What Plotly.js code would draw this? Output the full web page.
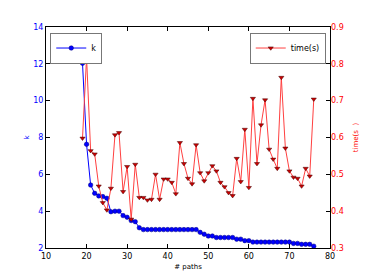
<!DOCTYPE html>
<html>
<head>
<meta charset="utf-8">
<script src="https://cdn.plot.ly/plotly-3.0.1.min.js"></script>
<style>html,body{margin:0;padding:0;background:#fff}#chart{width:367px;height:277px}</style>
</head>
<body>
<div id="chart"></div>
<script>
const paths = [19,20,21,22,23,24,25,26,27,28,29,30,31,32,33,34,35,36,37,38,39,40,41,42,43,44,45,46,47,48,49,50,51,52,53,54,55,56,57,58,59,60,61,62,63,64,65,66,67,68,69,70,71,72,73,74,75,76];
const kValues = [12.03,7.63,5.42,4.97,4.83,4.79,4.70,3.97,4.0,4.0,3.76,3.67,3.49,3.43,3.1,3.0,3.0,3.0,3.0,3.0,3.0,3.0,3.0,3.0,3.0,3.0,3.0,3.0,3.0,2.85,2.75,2.65,2.65,2.57,2.57,2.57,2.57,2.57,2.48,2.48,2.4,2.4,2.32,2.32,2.32,2.32,2.32,2.32,2.32,2.32,2.32,2.32,2.25,2.25,2.2,2.2,2.2,2.1];
const timeValues = [0.598,0.817,0.564,0.555,0.468,0.423,0.403,0.462,0.607,0.613,0.453,0.521,0.378,0.527,0.437,0.437,0.430,0.432,0.500,0.432,0.487,0.487,0.478,0.447,0.586,0.529,0.489,0.474,0.580,0.504,0.482,0.504,0.523,0.509,0.478,0.466,0.450,0.442,0.543,0.480,0.622,0.464,0.706,0.529,0.634,0.702,0.568,0.541,0.516,0.763,0.571,0.509,0.492,0.489,0.468,0.516,0.495,0.704];
const xTicks = [10,20,30,40,50,60,70,80];
const kTicks = [2,4,6,8,10,12,14];
const timeTicks = [0.3,0.4,0.5,0.6,0.7,0.8,0.9];

const font = "DejaVu Sans, sans-serif";
const traces = [
  {x: paths, y: kValues, name: 'k', type: 'scatter', mode: 'lines+markers',
   line: {color: 'blue', width: 1},
   marker: {symbol: 'circle', size: 4.5, color: 'blue', line: {color: '#000080', width: 0.5}},
   legend: 'legend', yaxis: 'y'},
  {x: paths, y: timeValues, name: 'time(s)', type: 'scatter', mode: 'lines+markers',
   line: {color: '#ff4040', width: 1},
   marker: {symbol: 'triangle-down', size: 4.5, color: '#cc0000', line: {color: '#400000', width: 0.5}},
   legend: 'legend2', yaxis: 'y2'}
];
const layout = {
  width: 367, height: 277,
  margin: {l: 46, r: 37, t: 27, b: 29},
  paper_bgcolor: '#fff', plot_bgcolor: '#fff',
  font: {family: font, size: 8, color: 'black'},
  showlegend: true,
  xaxis: {range: [10, 80], tickvals: xTicks, ticktext: xTicks.map(String),
          showgrid: false, zeroline: false, showline: true, linecolor: 'black', linewidth: 1,
          mirror: 'ticks', ticks: 'inside', ticklen: 4, tickcolor: 'black',
          tickfont: {family: font, size: 8, color: 'black'},
          title: {text: '# paths', font: {family: font, size: 7, color: 'black'}, standoff: 4}},
  yaxis: {range: [2, 14], tickvals: kTicks, ticktext: kTicks.map(String),
          showgrid: false, zeroline: false, showline: true, linecolor: 'black', linewidth: 1,
          mirror: true, ticks: 'inside', ticklen: 4, tickcolor: 'black',
          tickfont: {family: font, size: 8, color: 'blue'},
          title: {text: 'k', font: {family: font, size: 7, color: 'blue'}, standoff: 2}},
  yaxis2: {range: [0.3, 0.9], tickvals: timeTicks, ticktext: timeTicks.map(v => v.toFixed(1)),
          overlaying: 'y', side: 'right',
          showgrid: false, zeroline: false, showline: false,
          ticks: 'inside', ticklen: 4, tickcolor: 'black',
          tickfont: {family: font, size: 8, color: 'red'},
          title: {text: 'time(s  )', font: {family: font, size: 7, color: 'red'}, standoff: 10}},
  legend: {x: 0.015, y: 0.975, xanchor: 'left', yanchor: 'top',
           bgcolor: '#fff', bordercolor: '#777', borderwidth: 1,
           font: {family: font, size: 8, color: 'black'}, itemwidth: 30, tracegroupgap: 0},
  legend2: {x: 0.985, y: 0.975, xanchor: 'right', yanchor: 'top',
           bgcolor: '#fff', bordercolor: '#777', borderwidth: 1,
           font: {family: font, size: 8, color: 'black'}, itemwidth: 30, tracegroupgap: 0}
};
Plotly.newPlot('chart', traces, layout, {displayModeBar: false, staticPlot: true});
</script>
</body>
</html>
